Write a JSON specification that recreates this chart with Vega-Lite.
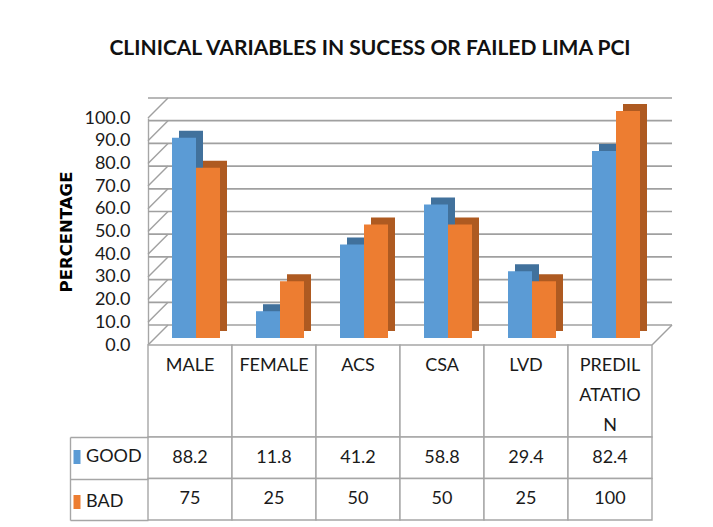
{
  "$schema": "https://vega.github.io/schema/vega-lite/v6.json",
  "width": 504,
  "height": 227,
  "autosize": {"type": "none"},
  "padding": {"left": 148, "top": 118, "right": 61, "bottom": 182},
  "background": "white",
  "title": {
    "text": "CLINICAL VARIABLES IN SUCESS OR FAILED LIMA PCI",
    "font": "Lato", "fontSize": 21, "fontWeight": "bold", "color": "#111111",
    "anchor": "middle", "frame": "group", "dx": -30, "baseline": "alphabetic", "offset": 21
  },
  "config": {"view": {"stroke": null}, "font": "Lato"},
  "datasets": {
    "bars": [
      {"category": "MALE", "series": "GOOD", "value": 88.2},
      {"category": "MALE", "series": "BAD", "value": 75},
      {"category": "FEMALE", "series": "GOOD", "value": 11.8},
      {"category": "FEMALE", "series": "BAD", "value": 25},
      {"category": "ACS", "series": "GOOD", "value": 41.2},
      {"category": "ACS", "series": "BAD", "value": 50},
      {"category": "CSA", "series": "GOOD", "value": 58.8},
      {"category": "CSA", "series": "BAD", "value": 50},
      {"category": "LVD", "series": "GOOD", "value": 29.4},
      {"category": "LVD", "series": "BAD", "value": 25},
      {"category": "PREDILATATION", "series": "GOOD", "value": 82.4},
      {"category": "PREDILATATION", "series": "BAD", "value": 100}
    ],
    "grid": [
      {"v": 0}, {"v": 10}, {"v": 20}, {"v": 30}, {"v": 40}, {"v": 50},
      {"v": 60}, {"v": 70}, {"v": 80}, {"v": 90}, {"v": 100}
    ]
  },
  "layer": [
    {
      "layer": [
        {
          "data": {"name": "grid"},
          "mark": {"type": "rule", "color": "#A0A0A0", "strokeWidth": 1.7, "xOffset": 20, "x2Offset": 20, "yOffset": -20},
          "encoding": {
            "y": {
              "field": "v", "type": "quantitative", "scale": {"domain": [0, 100]},
              "axis": {
                "title": "PERCENTAGE", "titleFont": "DejaVu Sans", "titleFontWeight": "bold", "titleFontSize": 16.5,
                "titleColor": "#000000", "titlePadding": 9,
                "values": [0, 10, 20, 30, 40, 50, 60, 70, 80, 90, 100],
                "format": ".1f", "labelFontSize": 18, "labelColor": "#1a1a1a", "labelOverlap": false,
                "ticks": false, "labelPadding": 18, "grid": false,
                "domainColor": "#A6A6A6", "domainWidth": 1.4
              }
            }
          }
        },
        {
          "data": {"name": "grid"},
          "mark": {"type": "rule", "color": "#A0A0A0", "strokeWidth": 1.4, "y2Offset": -20},
          "encoding": {
            "x": {"value": 0}, "x2": {"value": 20},
            "y": {
              "field": "v", "type": "quantitative",
              "axis": {
                "title": "PERCENTAGE", "titleFont": "DejaVu Sans", "titleFontWeight": "bold", "titleFontSize": 16.5,
                "titleColor": "#000000", "titlePadding": 9,
                "values": [0, 10, 20, 30, 40, 50, 60, 70, 80, 90, 100],
                "format": ".1f", "labelFontSize": 18, "labelColor": "#1a1a1a", "labelOverlap": false,
                "ticks": false, "labelPadding": 18, "grid": false,
                "domainColor": "#A6A6A6", "domainWidth": 1.4
              }
            },
            "y2": {"field": "v"}
          }
        },
        {
          "data": {"name": "grid"},
          "transform": [{"filter": "datum.v == 0"}],
          "mark": {"type": "rule", "color": "#A0A0A0", "strokeWidth": 1.4, "y2Offset": -20},
          "encoding": {
            "x": {"value": {"expr": "width"}}, "x2": {"value": {"expr": "width + 20"}},
            "y": {
              "field": "v", "type": "quantitative",
              "axis": {
                "title": "PERCENTAGE", "titleFont": "DejaVu Sans", "titleFontWeight": "bold", "titleFontSize": 16.5,
                "titleColor": "#000000", "titlePadding": 9,
                "values": [0, 10, 20, 30, 40, 50, 60, 70, 80, 90, 100],
                "format": ".1f", "labelFontSize": 18, "labelColor": "#1a1a1a", "labelOverlap": false,
                "ticks": false, "labelPadding": 18, "grid": false,
                "domainColor": "#A6A6A6", "domainWidth": 1.4
              }
            },
            "y2": {"field": "v"}
          }
        },
        {
          "data": {"name": "bars"},
          "transform": [{"filter": "datum.series == 'GOOD'"}],
          "mark": {"type": "bar", "width": 24, "xOffset": 1, "yOffset": -14, "y2Offset": -14, "color": "#41719C"},
          "encoding": {
            "x": {"field": "category", "type": "nominal", "sort": null, "scale": {"paddingInner": 0, "paddingOuter": 0}, "axis": null},
            "y": {
              "field": "value", "type": "quantitative",
              "axis": {
                "title": "PERCENTAGE", "titleFont": "DejaVu Sans", "titleFontWeight": "bold", "titleFontSize": 16.5,
                "titleColor": "#000000", "titlePadding": 9,
                "values": [0, 10, 20, 30, 40, 50, 60, 70, 80, 90, 100],
                "format": ".1f", "labelFontSize": 18, "labelColor": "#1a1a1a", "labelOverlap": false,
                "ticks": false, "labelPadding": 18, "grid": false,
                "domainColor": "#A6A6A6", "domainWidth": 1.4
              }
            }
          }
        },
        {
          "data": {"name": "bars"},
          "transform": [{"filter": "datum.series == 'BAD'"}],
          "mark": {"type": "bar", "width": 24, "xOffset": 25, "yOffset": -14, "y2Offset": -14, "color": "#AE5A21"},
          "encoding": {
            "x": {"field": "category", "type": "nominal", "sort": null, "axis": null},
            "y": {
              "field": "value", "type": "quantitative",
              "axis": {
                "title": "PERCENTAGE", "titleFont": "DejaVu Sans", "titleFontWeight": "bold", "titleFontSize": 16.5,
                "titleColor": "#000000", "titlePadding": 9,
                "values": [0, 10, 20, 30, 40, 50, 60, 70, 80, 90, 100],
                "format": ".1f", "labelFontSize": 18, "labelColor": "#1a1a1a", "labelOverlap": false,
                "ticks": false, "labelPadding": 18, "grid": false,
                "domainColor": "#A6A6A6", "domainWidth": 1.4
              }
            }
          }
        },
        {
          "data": {"name": "bars"},
          "transform": [{"filter": "datum.series == 'GOOD'"}],
          "mark": {"type": "bar", "width": 24, "xOffset": -6, "yOffset": -7, "y2Offset": -7},
          "encoding": {
            "x": {"field": "category", "type": "nominal", "sort": null, "axis": null},
            "y": {
              "field": "value", "type": "quantitative",
              "axis": {
                "title": "PERCENTAGE", "titleFont": "DejaVu Sans", "titleFontWeight": "bold", "titleFontSize": 16.5,
                "titleColor": "#000000", "titlePadding": 9,
                "values": [0, 10, 20, 30, 40, 50, 60, 70, 80, 90, 100],
                "format": ".1f", "labelFontSize": 18, "labelColor": "#1a1a1a", "labelOverlap": false,
                "ticks": false, "labelPadding": 18, "grid": false,
                "domainColor": "#A6A6A6", "domainWidth": 1.4
              }
            },
            "color": {
              "field": "series", "type": "nominal",
              "scale": {"domain": ["GOOD", "BAD"], "range": ["#5B9BD5", "#ED7D31"]},
              "legend": {
                "orient": "none", "legendX": -80, "legendY": 330, "title": null,
                "symbolType": "M-0.5,-1H0.5V1H-0.5Z", "symbolSize": 196, "symbolStrokeWidth": 0,
                "labelFontSize": 18, "labelColor": "#1a1a1a", "labelOffset": 0, "rowPadding": 27
              }
            }
          }
        },
        {
          "data": {"name": "bars"},
          "transform": [{"filter": "datum.series == 'BAD'"}],
          "mark": {"type": "bar", "width": 24, "xOffset": 18, "yOffset": -7, "y2Offset": -7},
          "encoding": {
            "x": {"field": "category", "type": "nominal", "sort": null, "axis": null},
            "y": {
              "field": "value", "type": "quantitative",
              "axis": {
                "title": "PERCENTAGE", "titleFont": "DejaVu Sans", "titleFontWeight": "bold", "titleFontSize": 16.5,
                "titleColor": "#000000", "titlePadding": 9,
                "values": [0, 10, 20, 30, 40, 50, 60, 70, 80, 90, 100],
                "format": ".1f", "labelFontSize": 18, "labelColor": "#1a1a1a", "labelOverlap": false,
                "ticks": false, "labelPadding": 18, "grid": false,
                "domainColor": "#A6A6A6", "domainWidth": 1.4
              }
            },
            "color": {"field": "series", "type": "nominal"}
          }
        }
      ]
    },
    {
      "data": {"name": "bars"},
      "transform": [
        {"filter": "datum.series == 'GOOD'"},
        {"calculate": "length(datum.category) > 7 ? [substring(datum.category, 0, 6), substring(datum.category, 6, 12), substring(datum.category, 12)] : datum.category", "as": "label"}
      ],
      "layer": [
        {
          "mark": {"type": "rect", "fill": "white", "stroke": "#A6A6A6", "strokeWidth": 1.4},
          "encoding": {
            "x": {"field": "category", "type": "nominal", "sort": null, "axis": null},
            "y": {"datum": "header", "type": "nominal", "scale": {"domain": ["header"], "range": [227, 319], "paddingInner": 0, "paddingOuter": 0}, "axis": null}
          }
        },
        {
          "mark": {"type": "text", "fontSize": 18, "color": "#1a1a1a", "baseline": "top", "lineHeight": 30, "dy": 12},
          "encoding": {
            "x": {"field": "category", "type": "nominal", "sort": null, "axis": null},
            "y": {"datum": "header", "type": "nominal", "bandPosition": 0, "axis": null},
            "text": {"field": "label"}
          }
        }
      ]
    },
    {
      "data": {"name": "bars"},
      "layer": [
        {
          "mark": {"type": "rect", "fill": "white", "stroke": "#A6A6A6", "strokeWidth": 1.4},
          "encoding": {
            "x": {"field": "category", "type": "nominal", "sort": null, "axis": null},
            "y": {
              "field": "series", "type": "nominal",
              "scale": {"domain": ["GOOD", "BAD"], "range": [319, 402], "paddingInner": 0, "paddingOuter": 0},
              "axis": {
                "title": null, "orient": "left", "offset": 78, "tickSize": -78, "tickBand": "extent",
                "labels": false, "domainColor": "#A6A6A6", "domainWidth": 1.4,
                "tickColor": "#A6A6A6", "tickWidth": 1.4
              }
            }
          }
        },
        {
          "mark": {"type": "text", "fontSize": 18, "color": "#1a1a1a"},
          "encoding": {
            "x": {"field": "category", "type": "nominal", "sort": null, "axis": null},
            "y": {
              "field": "series", "type": "nominal",
              "axis": {
                "title": null, "orient": "left", "offset": 78, "tickSize": -78, "tickBand": "extent",
                "labels": false, "domainColor": "#A6A6A6", "domainWidth": 1.4,
                "tickColor": "#A6A6A6", "tickWidth": 1.4
              }
            },
            "text": {"field": "value", "type": "nominal"}
          }
        }
      ]
    }
  ],
  "resolve": {"scale": {"y": "independent"}, "axis": {"y": "independent"}}
}
